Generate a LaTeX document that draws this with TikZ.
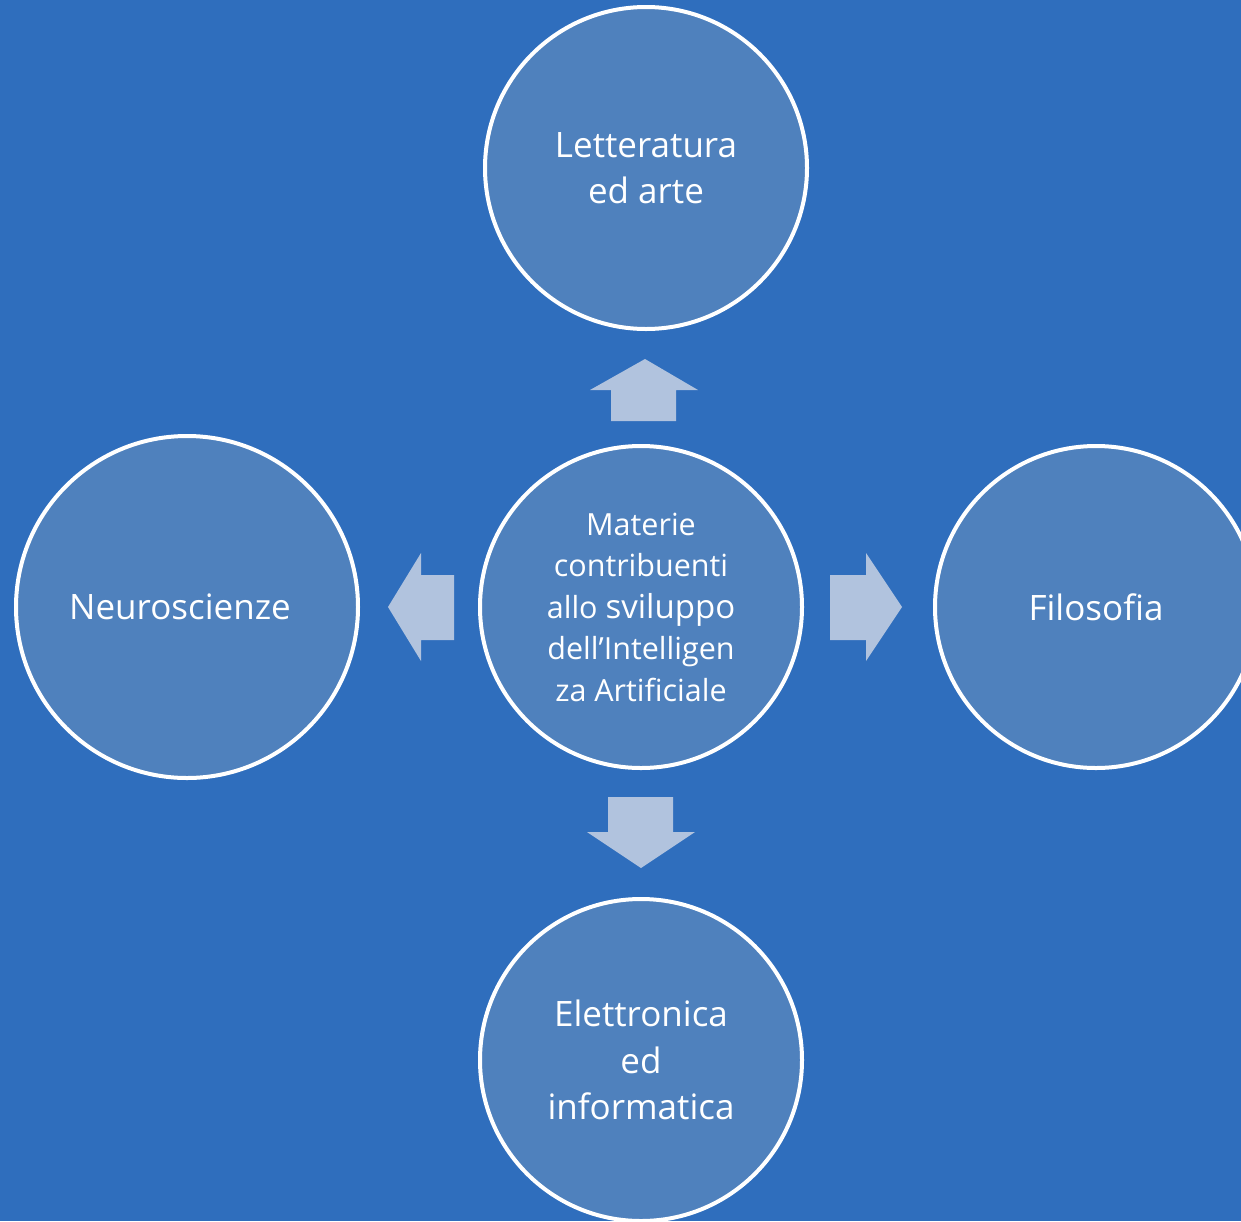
\documentclass[tikz,border=0pt]{standalone}
\usepackage{fontspec}
\setmainfont{Open Sans}
\definecolor{bgblue}{RGB}{47,110,189}
\definecolor{circblue}{RGB}{79,129,189}
\definecolor{arrowblue}{RGB}{177,195,222}
\begin{document}
\begin{tikzpicture}[x=1pt,y=-1pt,
  bubble/.style={circle,draw=white,line width=4pt,fill=circblue,text=white,align=center,inner sep=0pt},
  bigtext/.style={font=\fontsize{35}{46.5}\selectfont},
  midtext/.style={font=\fontsize{30.5}{41.5}\selectfont},
  blockarrow/.style={fill=arrowblue,draw=none}]
\useasboundingbox (0,0) rectangle (1241,1221);
\clip (0,0) rectangle (1241,1221);
\fill[bgblue] (0,0) rectangle (1241,1221);
% circles
\node[bubble,minimum size=322pt,bigtext] (top) at (646,168) {Letteratura\\ed arte};
\node[bubble,minimum size=322pt,midtext] (mid) at (641,607) {Materie\\contribuenti\\allo {\fontsize{33}{41.5}\selectfont sviluppo}\\dell’Intelligen\\za Artificiale};
\node[bubble,minimum size=342pt,bigtext] (left) at (187,607) {Neuroscienze\hspace*{14pt}};
\node[bubble,minimum size=322pt,bigtext] (right) at (1096,607) {Filosofia};
\node[bubble,minimum size=322pt,bigtext] (bot) at (641,1060) {Elettronica\\ed\\informatica};
% block arrows
\fill[blockarrow] (611,421) -- (611,390) -- (590,390) -- (645,359) -- (698,390) -- (676,390) -- (676,421) -- cycle;
\fill[blockarrow] (454,575) -- (421,575) -- (421,553) -- (388,607) -- (421,661) -- (421,640) -- (454,640) -- cycle;
\fill[blockarrow] (830,575) -- (866,575) -- (866,553) -- (902,607) -- (866,661) -- (866,640) -- (830,640) -- cycle;
\fill[blockarrow] (608,797) -- (673,797) -- (673,832) -- (695,832) -- (641,868) -- (587,832) -- (608,832) -- cycle;
\end{tikzpicture}
\end{document}
